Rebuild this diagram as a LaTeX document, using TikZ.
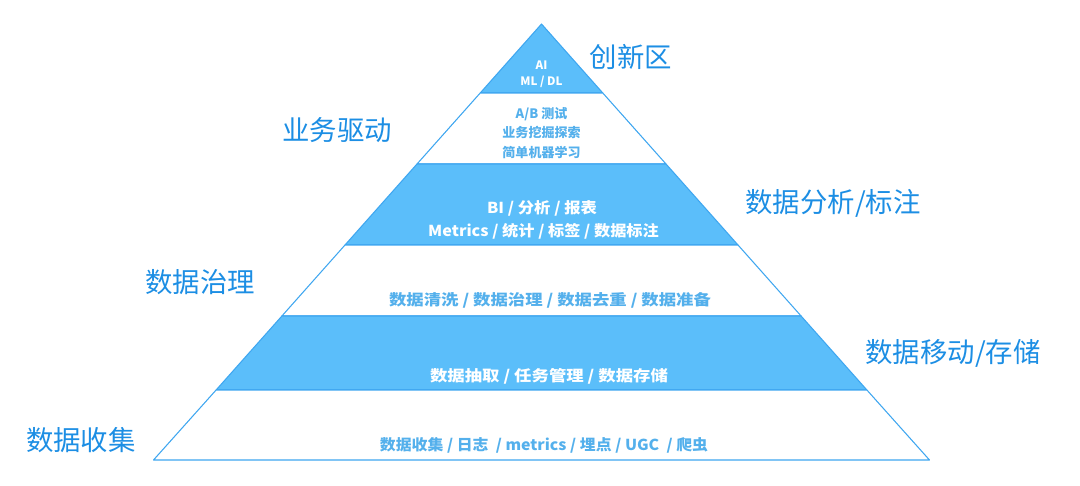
\documentclass[tikz,border=0pt]{standalone}
\usepackage{fontspec}
\setmainfont{Noto Sans CJK SC}
\usetikzlibrary{calc}
\definecolor{bandfill}{RGB}{91,190,250}
\definecolor{bandline}{RGB}{62,166,240}
\definecolor{bandtext}{RGB}{84,176,236}
\definecolor{labeltext}{RGB}{28,142,228}
\newcommand{\hstretch}[2]{\scalebox{#1}[1]{#2}}
\tikzset{
  blueband/.style={fill=bandfill, draw=bandline, line width=0.6pt, line join=round},
  whiteband/.style={fill=white, draw=bandline, line width=0.6pt, line join=round},
  wtext/.style={text=white, font=\bfseries\fontsize{#1}{#1}\selectfont, inner sep=0pt, anchor=center},
  btext/.style={text=bandtext, font=\bfseries\fontsize{#1}{#1}\selectfont, inner sep=0pt, anchor=center},
  sidelabel/.style={text=labeltext, font=\fontsize{15.6pt}{15.6pt}\selectfont, inner sep=0pt, anchor=center}
}
\begin{document}
\begin{tikzpicture}[x=0.02cm, y=-0.02cm]
\useasboundingbox (0,0) rectangle (1080,485);
% band corner coordinates
\coordinate (apex) at (541.5,24);
\coordinate (l1) at (480.2,93);  \coordinate (r1) at (602.8,93);
\coordinate (l2) at (417.0,164); \coordinate (r2) at (666.0,164);
\coordinate (l3) at (345.0,245); \coordinate (r3) at (738.0,245);
\coordinate (l4) at (281.9,316); \coordinate (r4) at (801.1,316);
\coordinate (l5) at (216.1,390); \coordinate (r5) at (866.9,390);
\coordinate (l6) at (153.5,460); \coordinate (r6) at (929.5,460);
% bands
\draw[blueband]  (apex) -- (r1) -- (l1) -- cycle;
\draw[whiteband] (l1) -- (r1) -- (r2) -- (l2) -- cycle;
\draw[blueband]  (l2) -- (r2) -- (r3) -- (l3) -- cycle;
\draw[whiteband] (l3) -- (r3) -- (r4) -- (l4) -- cycle;
\draw[blueband]  (l4) -- (r4) -- (r5) -- (l5) -- cycle;
\draw[whiteband] (l5) -- (r5) -- (r6) -- (l6) -- cycle;
% band texts
\node[wtext=6.6pt] (ai) at (541.5,65) {AI};
\node[wtext=6.6pt] (mldl) at (541.5,82) {ML / DL};
\node[btext=7.4pt] (ab) at (541.5,114) {A/B 测试};
\node[btext=7.4pt] (wj) at (541.5,133) {业务挖掘探索};
\node[btext=7.4pt] (ml) at (541.5,152) {简单机器学习};
\node[wtext=8.6pt] (bi) at (542,208) {\hstretch{1.08}{BI / 分析 / 报表}};
\node[wtext=8.6pt] (metrics) at (543.5,231) {\hstretch{1.07}{Metrics / 统计 / 标签 / 数据标注}};
\node[btext=8.6pt] (qx) at (550,300) {\hstretch{1.15}{数据清洗 / 数据治理 / 数据去重 / 数据准备}};
\node[wtext=8.6pt] (cq) at (549,376) {\hstretch{1.15}{数据抽取 / 任务管理 / 数据存储}};
\node[btext=8.6pt] (sj) at (544,445) {\hstretch{1.05}{数据收集 / 日志 \ / metrics / 埋点 / UGC \ / 爬虫}};
% side labels
\node[sidelabel] (cxq) at (631,57) {创新区};
\node[sidelabel] (ywqd) at (337,130) {业务驱动};
\node[sidelabel] (fx) at (833,203) {数据分析/标注};
\node[sidelabel] (zl) at (200,282) {数据治理};
\node[sidelabel] (yd) at (953,353) {数据移动/存储};
\node[sidelabel] (sjsj) at (81,440) {数据收集};
\end{tikzpicture}
\end{document}
